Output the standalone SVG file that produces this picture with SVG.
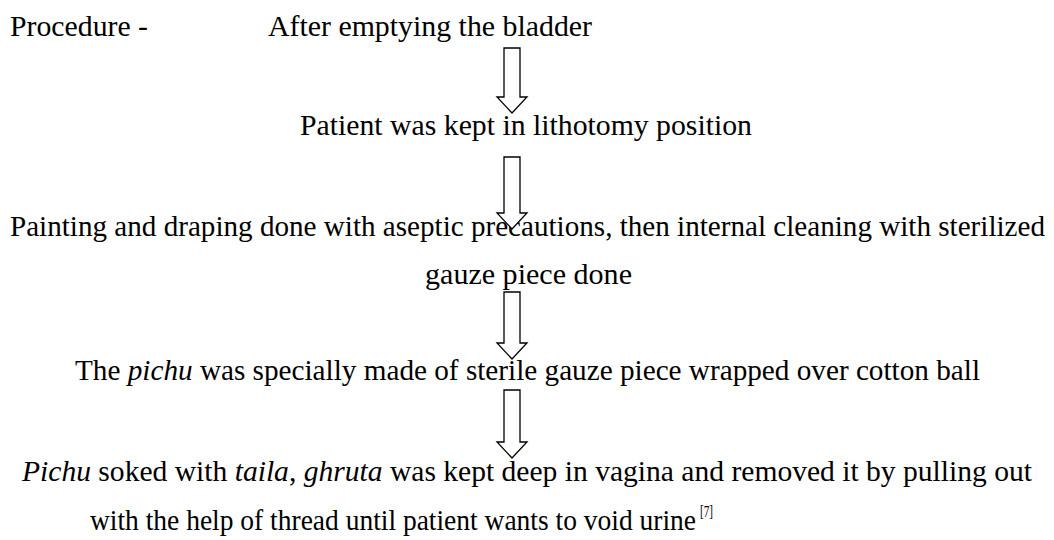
<svg xmlns="http://www.w3.org/2000/svg" width="1054" height="540" viewBox="0 0 1054 540">
<style>
  .t { font-family: "Liberation Serif", "Times New Roman", serif; font-size: 30px; fill: #000; }
  .i { font-style: italic; }
  .sup { font-family: "Liberation Serif", "Times New Roman", serif; font-size: 17px; fill: #000; }
  .arr { fill: #fff; stroke: #000; stroke-width: 1.3; stroke-linejoin: miter; }
</style>
<rect width="1054" height="540" fill="#fff"/>
<g id="label-procedure">
  <text class="t" x="10" y="36" textLength="138" lengthAdjust="spacingAndGlyphs">Procedure -</text>
</g>
<g id="node1">
  <text class="t" x="268" y="36" textLength="324" lengthAdjust="spacingAndGlyphs">After emptying the bladder</text>
</g>
<g id="node2">
  <text class="t" x="300" y="135" textLength="452" lengthAdjust="spacingAndGlyphs">Patient was kept in lithotomy position</text>
</g>
<g id="node3">
  <text class="t" x="10" y="236" textLength="1035" lengthAdjust="spacingAndGlyphs">Painting and draping done with aseptic precautions, then internal cleaning with sterilized</text>
  <text class="t" x="425" y="284" textLength="207" lengthAdjust="spacingAndGlyphs">gauze piece done</text>
</g>
<g id="node4">
  <text class="t" x="75" y="380" textLength="905" lengthAdjust="spacingAndGlyphs">The <tspan class="i">pichu</tspan> was specially made of sterile gauze piece wrapped over cotton ball</text>
</g>
<g id="node5">
  <text class="t" x="22" y="481" textLength="1010" lengthAdjust="spacingAndGlyphs"><tspan class="i">Pichu</tspan> soked with <tspan class="i">taila</tspan>, <tspan class="i">ghruta</tspan> was kept deep in vagina and removed it by pulling out</text>
  <text class="t" x="90" y="530" textLength="606" lengthAdjust="spacingAndGlyphs">with the help of thread until patient wants to void urine</text>
  <text class="sup" x="700" y="517" textLength="13" lengthAdjust="spacingAndGlyphs">[7]</text>
</g>
<g id="connectors">
  <path class="arr" d="M504,48 H520 V97 H527 L512,113 L497,97 H504 Z"/>
  <path class="arr" d="M504,157 H520 V213 H527 L512,229 L497,213 H504 Z"/>
  <path class="arr" d="M504,292 H520 V343 H527 L512,359 L497,343 H504 Z"/>
  <path class="arr" d="M504,390 H520 V442 H527 L512,458 L497,442 H504 Z"/>
</g>
</svg>
